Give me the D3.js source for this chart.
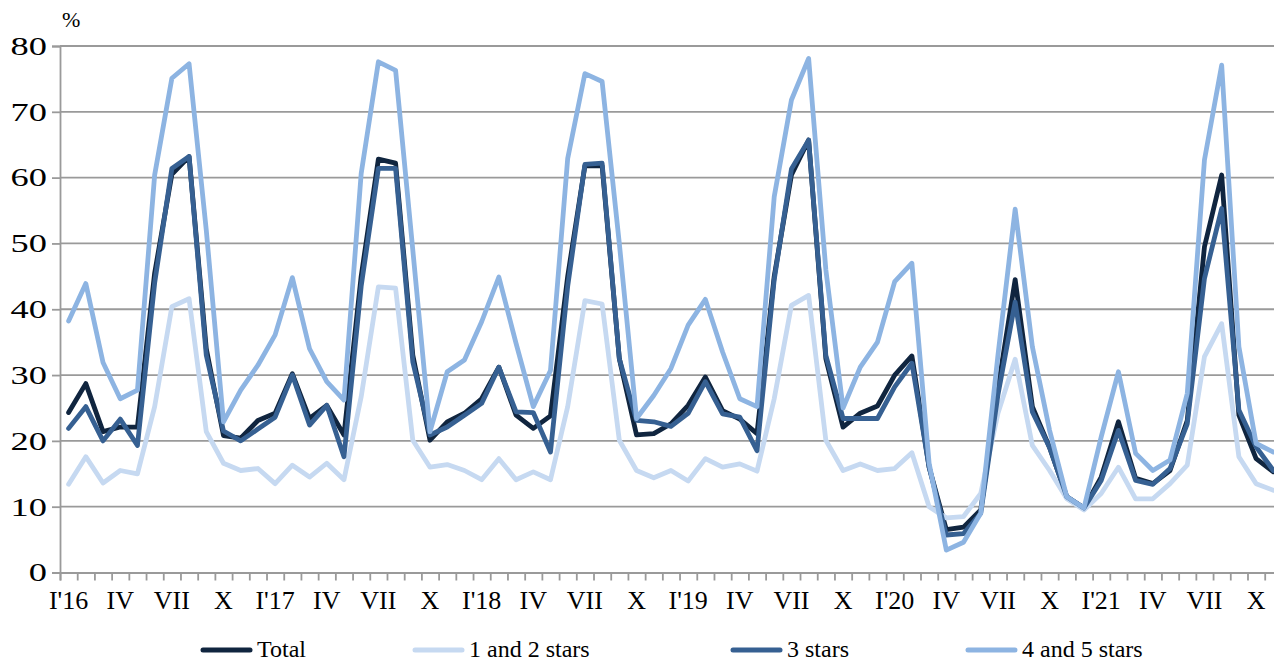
<!DOCTYPE html>
<html>
<head>
<meta charset="utf-8">
<script src="https://cdn.jsdelivr.net/npm/d3@7"></script>
<style>
  body { margin: 0; background: #fff; }
  svg text { font-family: "Liberation Serif", "Times New Roman", serif; }
</style>
</head>
<body>
<div id="chart"></div>
<script>
// monthly series, Jan 2016 .. Nov 2021 (%)
const total = [24.3, 28.7, 21.4, 22.1, 22.1, 45.5, 60.5, 63.2, 34, 20.8, 20.4, 23.1,
  24.2, 30.2, 23.4, 25.4, 20.9, 45, 62.8, 62.2, 33, 20.1, 22.9, 24.2,
  26.4, 31.2, 23.9, 21.9, 23.8, 45, 61.8, 61.8, 32.5, 20.9, 21.1, 22.6,
  25.4, 29.7, 24.6, 23.3, 21.1, 45, 60.4, 65.7, 32.5, 22.1, 24.2, 25.3,
  30.0, 32.9, 16.0, 6.5, 6.9, 9.5, 28, 44.5, 25.2, 19, 11.5, 9.8,
  14.5, 22.9, 14.3, 13.5, 15.5, 23.1, 49.5, 60.4, 23.9, 17.3, 15.3];
const stars12 = [13.4, 17.6, 13.6, 15.5, 15.0, 25.2, 40.4, 41.6, 21.4, 16.6, 15.5, 15.8,
  13.5, 16.3, 14.5, 16.6, 14.1, 26.7, 43.4, 43.2, 20.1, 16.0, 16.4, 15.5,
  14.1, 17.3, 14.1, 15.3, 14.1, 25.2, 41.3, 40.8, 20.1, 15.5, 14.4, 15.5,
  13.9, 17.3, 16.0, 16.5, 15.4, 26.4, 40.6, 42.1, 20.1, 15.5, 16.5, 15.5,
  15.8, 18.2, 10.0, 8.3, 8.5, 12.0, 24.2, 32.4, 19.3, 15.5, 11.2, 9.5,
  12.0, 16.0, 11.2, 11.2, 13.5, 16.3, 32.8, 37.8, 17.6, 13.5, 12.5];
const stars3 = [21.9, 25.2, 20.0, 23.3, 19.3, 44, 61.4, 63.2, 33, 21.5, 20.0, 21.8,
  23.6, 30.0, 22.4, 25.4, 17.6, 43.5, 61.4, 61.4, 32, 20.9, 22.1, 23.9,
  25.7, 31.2, 24.4, 24.3, 18.3, 43.5, 62.0, 62.2, 32.5, 23.1, 22.9, 22.2,
  24.2, 29.0, 24.1, 23.6, 18.5, 44.5, 61.3, 65.7, 33, 23.4, 23.4, 23.4,
  28.2, 31.8, 16, 5.7, 5.9, 9.0, 27, 41.1, 24.4, 19, 11.5, 9.8,
  14.0, 21.6, 14.0, 13.4, 15.8, 22.6, 44.7, 55.3, 24.7, 19.1, 15.5];
const stars45 = [38.2, 43.9, 31.9, 26.4, 27.7, 60.4, 75.1, 77.3, 52, 22.9, 27.7, 31.5,
  36.1, 44.8, 34.0, 29.0, 26.2, 60.6, 77.6, 76.3, 49, 21.4, 30.5, 32.3,
  38.1, 44.9, 34.8, 25.2, 30.7, 62.9, 75.8, 74.6, 50, 23.4, 26.9, 31.0,
  37.6, 41.5, 33.5, 26.4, 25.2, 57.1, 71.8, 78.1, 46, 25.0, 31.2, 35.0,
  44.2, 47.0, 16.6, 3.4, 4.6, 9.0, 33, 55.2, 34.3, 21.6, 11.5, 9.8,
  20.6, 30.5, 18.1, 15.5, 17.1, 27.2, 62.7, 77.1, 34.3, 19.6, 18.3];

const seriesNames = ["Total", "1 and 2 stars", "3 stars", "4 and 5 stars"];
const seriesColors = ["#10253f", "#c6d9f1", "#366092", "#8db4e2"];
const monthLabels = ["I'16", "IV", "VII", "X", "I'17", "IV", "VII", "X", "I'18", "IV", "VII", "X",
  "I'19", "IV", "VII", "X", "I'20", "IV", "VII", "X", "I'21", "IV", "VII", "X"];
const yTicks = [0, 10, 20, 30, 40, 50, 60, 70, 80];

const series = [total, stars12, stars3, stars45];
const serif = "'Liberation Serif', 'Times New Roman', serif";

const width = 1274, height = 662;
const svg = d3.select("#chart").append("svg")
  .attr("width", width).attr("height", height);

svg.append("rect").attr("width", width).attr("height", height).attr("fill", "#fff");

// months are categories between tick marks
const x = d3.scaleLinear().domain([0, 71]).range([60, 60 + 17.21 * 71]);
const y = d3.scaleLinear().domain([0, 80]).range([572.5, 46]);

// gridlines
svg.append("g")
  .selectAll("line")
  .data(yTicks.slice(1))
  .join("line")
  .attr("x1", x(0)).attr("x2", x(71))
  .attr("y1", d => y(d)).attr("y2", d => y(d))
  .attr("stroke", "#9a9a9a").attr("stroke-width", 1.8);

// y axis (labels drawn a bit wide, as in the source)
const yAxis = svg.append("g")
  .attr("transform", `translate(${x(0)},0)`)
  .call(d3.axisLeft(y).tickValues(yTicks).tickSize(8));
yAxis.select(".domain").attr("stroke", "#9a9a9a").attr("stroke-width", 1.8);
yAxis.selectAll(".tick line").attr("stroke", "#9a9a9a").attr("stroke-width", 1.8);
yAxis.selectAll(".tick text")
  .attr("font-family", serif)
  .attr("font-size", 26).attr("fill", "#000")
  .attr("x", -13 / 1.4)
  .attr("transform", "scale(1.4,1)");

// x axis: ticks at month boundaries, labels every quarter
const xAxis = svg.append("g")
  .attr("transform", `translate(0,${y(0)})`)
  .call(d3.axisBottom(x).tickValues(d3.range(0, 72)).tickSize(8).tickFormat(""));
xAxis.select(".domain").attr("stroke", "#9a9a9a").attr("stroke-width", 1.8);
xAxis.selectAll(".tick line").attr("stroke", "#9a9a9a").attr("stroke-width", 1.8);

svg.append("g")
  .selectAll("text")
  .data(monthLabels)
  .join("text")
  .attr("x", (d, i) => x(i * 3 + 0.5))
  .attr("y", 609)
  .attr("text-anchor", "middle")
  .attr("font-family", serif)
  .attr("font-size", 26)
  .attr("fill", "#000")
  .text(d => d);

svg.append("text")
  .attr("x", 62).attr("y", 27)
  .attr("font-family", serif)
  .attr("font-size", 22)
  .text("%");

// lines
const line = d3.line()
  .x((d, i) => x(i + 0.5))
  .y(d => y(d));

svg.append("g")
  .selectAll("path")
  .data(series)
  .join("path")
  .attr("d", d => line(d))
  .attr("fill", "none")
  .attr("stroke", (d, i) => seriesColors[i])
  .attr("stroke-width", 4.8)
  .attr("stroke-linejoin", "round")
  .attr("stroke-linecap", "round");

// legend
const legendX = [203, 415, 733, 968];
const legend = svg.append("g")
  .selectAll("g")
  .data(seriesNames)
  .join("g")
  .attr("transform", (d, i) => `translate(${legendX[i]},650)`);

legend.append("line")
  .attr("x1", 0).attr("x2", 47)
  .attr("stroke", (d, i) => seriesColors[i])
  .attr("stroke-width", 5)
  .attr("stroke-linecap", "round");

legend.append("text")
  .attr("x", 54).attr("y", 7)
  .attr("font-family", serif)
  .attr("font-size", 24)
  .text(d => d);
</script>
</body>
</html>
